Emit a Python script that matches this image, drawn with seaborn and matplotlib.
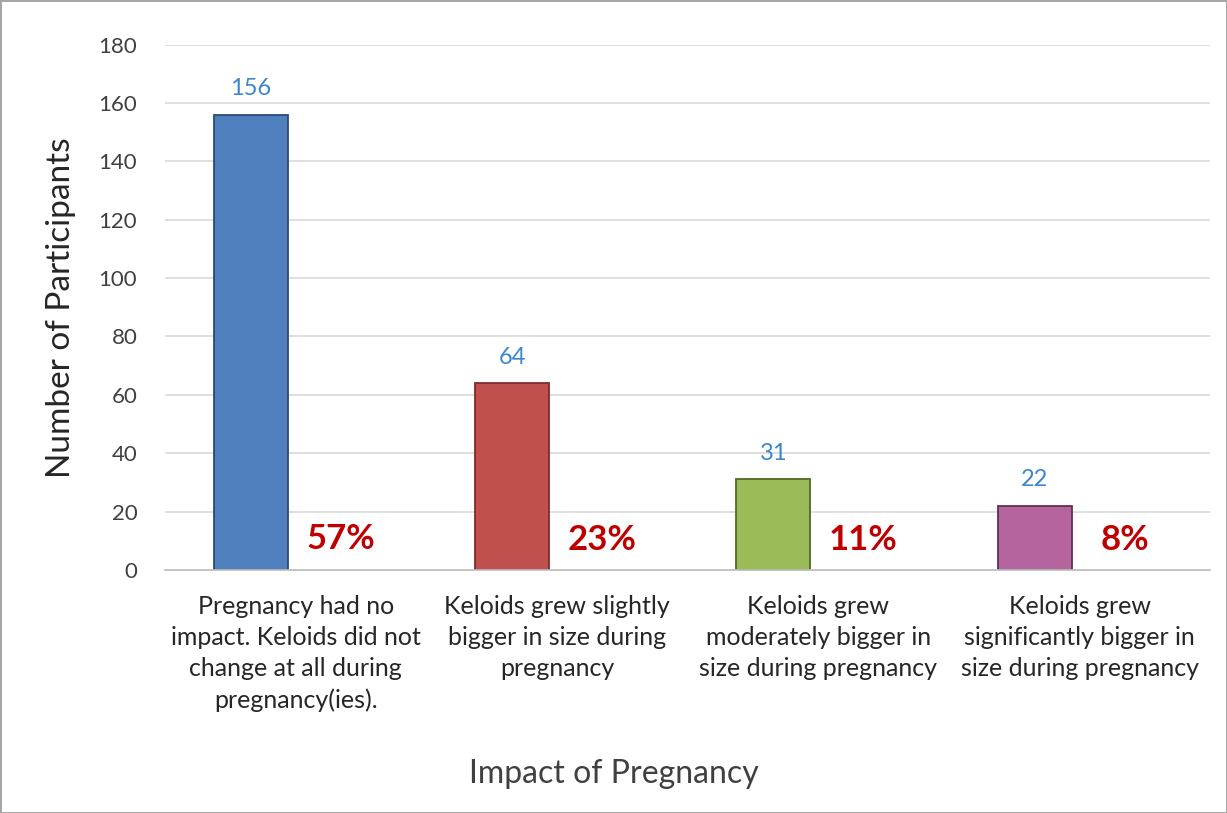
import pandas as pd
import matplotlib.pyplot as plt
import seaborn as sns

# Data
categories = [
    'Pregnancy had no\nimpact. Keloids did not\nchange at all during\npregnancy(ies).',
    'Keloids grew slightly\nbigger in size during\npregnancy',
    'Keloids grew\nmoderately bigger in\nsize during pregnancy',
    'Keloids grew\nsignificantly bigger in\nsize during pregnancy',
]
counts = [156, 64, 31, 22]
percents = [57, 23, 11, 8]
bar_colors = ['#4F7FBD', '#C0504D', '#9BBB59', '#B5649E']
edge_colors = ['#2B4A75', '#7A2E2C', '#4F6B25', '#5E2F55']

sns.set_theme(style='white')
plt.rcParams['font.family'] = ['Lato', 'DejaVu Sans']

# long table: counts plus percentage (as a fraction, like the spreadsheet's second series)
df = pd.DataFrame({
    'category': categories * 2,
    'value': counts + [p / 100 for p in percents],
    'series': ['count'] * 4 + ['pct'] * 4,
})

fig = plt.figure(figsize=(12.27, 8.13), dpi=100)
ax = fig.add_axes([0.1345, 0.299, 0.852, 0.646])

sns.barplot(data=df, x='category', y='value', hue='series', ax=ax,
            width=0.69, gap=0.18, legend=False, palette=['#4F7FBD', '#FFFFFF'])

count_bars = ax.containers[0]
pct_bars = ax.containers[1]
for bar, fc, ec in zip(count_bars, bar_colors, edge_colors):
    bar.set_facecolor(fc)
    bar.set_edgecolor(ec)
    bar.set_linewidth(1.3)
for bar in pct_bars:
    bar.set_alpha(0)

ax.bar_label(count_bars, labels=[str(c) for c in counts], padding=11,
             color='#3B86CF', fontsize=17)
ax.bar_label(pct_bars, labels=[f'{p}%' for p in percents], padding=9.5,
             color='#C00000', fontsize=25, fontweight='bold')

ax.set_ylim(0, 180)
ax.set_yticks(range(0, 181, 20))
ax.yaxis.grid(True, color='#D9D9D9', linewidth=1.2)
ax.set_axisbelow(True)
for s in ['top', 'right', 'left']:
    ax.spines[s].set_visible(False)
ax.spines['bottom'].set_color('#BFBFBF')
ax.tick_params(axis='y', length=0, labelsize=16, colors='#404040', pad=20)
ax.tick_params(axis='x', length=0, labelsize=18, colors='#262626', pad=18)
for t in ax.get_xticklabels():
    t.set_linespacing(1.42)

ax.set_ylabel('Number of Participants', fontsize=24, color='#262626', labelpad=16)
ax.set_xlabel('Impact of Pregnancy', fontsize=23, color='#404040')
# excel centres the axis title on the whole chart, not the plot area
ax.xaxis.set_label_coords(0.429, -0.36)

fig.patch.set_edgecolor('#A6A6A6')
fig.patch.set_linewidth(2)

fig.savefig('out.png', dpi=100, edgecolor=fig.get_edgecolor())
